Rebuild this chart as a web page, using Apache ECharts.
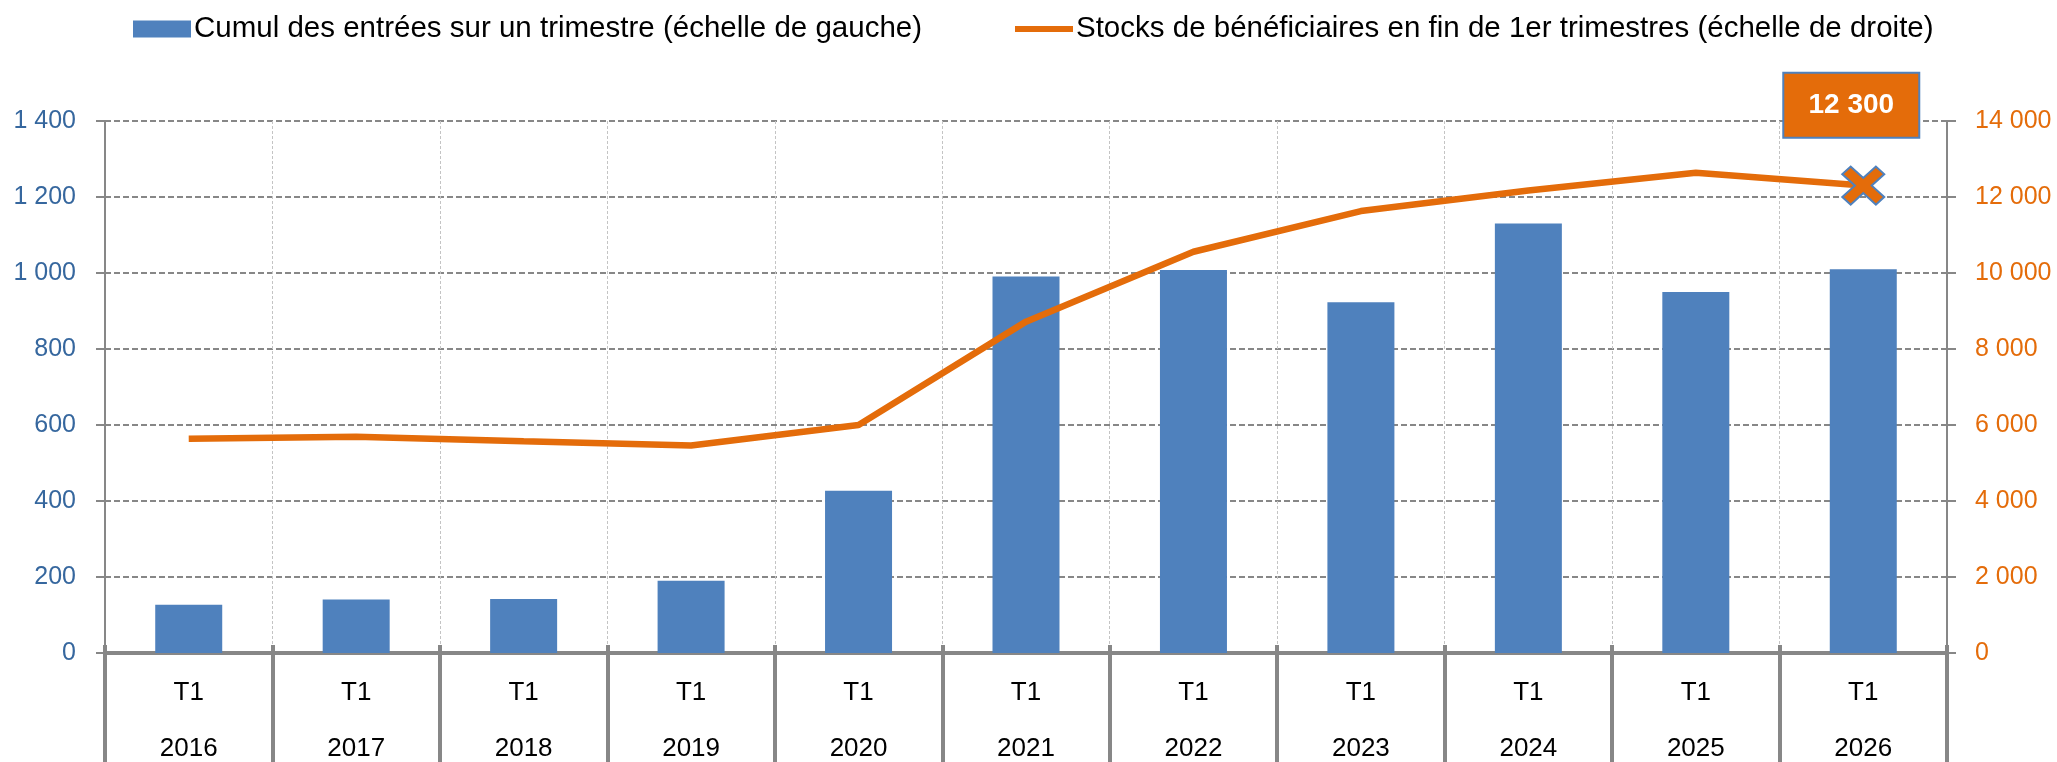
<!DOCTYPE html>
<html lang="fr" style="height: 100%">
<head>
    <meta charset="utf-8">
    <title>Entrées et stocks de bénéficiaires</title>
    <script src="https://cdn.jsdelivr.net/npm/echarts@6/dist/echarts.min.js"></script>
</head>
<body style="height: 100%; margin: 0; background: #fff">
    <div id="main" style="width: 2057px; height: 762px"></div>
    <script>
        // données
        const years = ['2016', '2017', '2018', '2019', '2020', '2021', '2022', '2023', '2024', '2025', '2026'];
        const quarter = 'T1';
        const entrees = [127, 141, 142, 190, 427, 991, 1008, 923, 1130, 950, 1010];
        const stocks = [5640, 5690, 5570, 5460, 6000, 8720, 10560, 11630, 12170, 12640, 12300];
        const leftTicks = [0, 200, 400, 600, 800, 1000, 1200, 1400];
        const rightTicks = [0, 2000, 4000, 6000, 8000, 10000, 12000, 14000];

        const nameBar = 'Cumul des entrées sur un trimestre (échelle de gauche)';
        const nameLine = 'Stocks de bénéficiaires en fin de 1er trimestres (échelle de droite)';

        const FONT = '"Liberation Sans", Arial, sans-serif';
        const BLUE = '#4F81BD';
        const ORANGE = '#E46C0A';
        const GREY = '#878787';

        // séparateur de milliers à la française
        function fmt(v) {
            return String(v).replace(/\B(?=(\d{3})+(?!\d))/g, ' ');
        }

        // croix épaisse pour le dernier point
        const crossPath = 'path://M0,4 L4,0 L10,6 L16,0 L20,4 L14,10 L20,16 L16,20 L10,14 L4,20 L0,16 L6,10 Z';
        const lineIcon = 'path://M0,0 L58,0 L58,6 L0,6 Z';

        const lineData = stocks.map((v, i) => {
            if (i !== stocks.length - 1) return v;
            return {
                value: v,
                symbol: crossPath,
                symbolSize: [42, 38],
                itemStyle: { color: ORANGE, borderColor: BLUE, borderWidth: 2 },
                label: {
                    show: true,
                    position: 'top',
                    distance: 29,
                    offset: [-12, 0],
                    formatter: p => fmt(p.value),
                    color: '#fff',
                    fontWeight: 'bold',
                    fontSize: 28,
                    fontFamily: FONT,
                    backgroundColor: ORANGE,
                    borderColor: BLUE,
                    borderWidth: 2,
                    width: 134,
                    height: 63,
                    lineHeight: 63,
                    align: 'center'
                }
            };
        });

        const myChart = echarts.init(document.getElementById('main'), null, { renderer: 'canvas' });

        const legendBase = {
            top: 9,
            itemWidth: 58,
            itemHeight: 17,
            textStyle: { fontSize: 29.5, color: '#000', fontFamily: FONT, padding: [0, 0, 0, -2] }
        };

        const option = {
            animation: false,
            textStyle: { fontFamily: FONT },
            legend: [
                { ...legendBase, left: 128, data: [{ name: nameBar, icon: 'rect' }] },
                { ...legendBase, left: 1010, data: [{ name: nameLine, icon: lineIcon }] }
            ],
            grid: {
                left: 105,
                right: 110,
                top: 121,
                bottom: 109
            },
            xAxis: [{
                type: 'category',
                data: years,
                axisLine: { lineStyle: { color: GREY, width: 4 } },
                axisTick: {
                    show: true,
                    interval: 0,
                    length: 112,
                    lineStyle: { color: GREY, width: 4 }
                },
                axisLabel: {
                    interval: 0,
                    margin: 12,
                    formatter: v => '{q|' + quarter + '}\n{y|' + v + '}',
                    rich: {
                        q: { fontSize: 26, color: '#000', fontFamily: FONT, lineHeight: 56 },
                        y: { fontSize: 26, color: '#000', fontFamily: FONT, lineHeight: 56 }
                    }
                },
                splitLine: {
                    show: true,
                    interval: 0,
                    lineStyle: { color: '#c4c4c4', width: 1, type: [3, 2] }
                }
            }, {
                type: 'category',
                data: years,
                position: 'bottom',
                axisLine: { show: false },
                axisTick: {
                    show: true,
                    inside: true,
                    interval: 0,
                    length: 8,
                    lineStyle: { color: GREY, width: 4 }
                },
                axisLabel: { show: false },
                splitLine: { show: false }
            }],
            yAxis: [{
                type: 'value',
                min: leftTicks[0],
                max: leftTicks[leftTicks.length - 1],
                interval: leftTicks[1] - leftTicks[0],
                axisLine: { show: true, lineStyle: { color: GREY, width: 2 } },
                axisTick: { show: true, length: 9, lineStyle: { color: GREY, width: 2 } },
                axisLabel: {
                    formatter: fmt,
                    color: '#36679E',
                    fontSize: 25,
                    fontFamily: FONT,
                    margin: 29
                },
                splitLine: {
                    show: true,
                    lineStyle: { color: GREY, width: 2, type: [6, 3] }
                }
            }, {
                type: 'value',
                min: rightTicks[0],
                max: rightTicks[rightTicks.length - 1],
                interval: rightTicks[1] - rightTicks[0],
                axisLine: { show: true, lineStyle: { color: GREY, width: 2 } },
                axisTick: { show: true, length: 9, lineStyle: { color: GREY, width: 2 } },
                axisLabel: {
                    formatter: fmt,
                    color: ORANGE,
                    fontSize: 25,
                    fontFamily: FONT,
                    margin: 28
                },
                splitLine: { show: false }
            }],
            series: [{
                name: nameBar,
                type: 'bar',
                data: entrees,
                barWidth: 67,
                itemStyle: { color: BLUE },
                z: 2
            }, {
                name: nameLine,
                type: 'line',
                yAxisIndex: 1,
                data: lineData,
                symbol: 'none',
                lineStyle: { color: ORANGE, width: 6.5 },
                itemStyle: { color: ORANGE },
                z: 3
            }]
        };

        myChart.setOption(option);
    </script>
</body>
</html>
